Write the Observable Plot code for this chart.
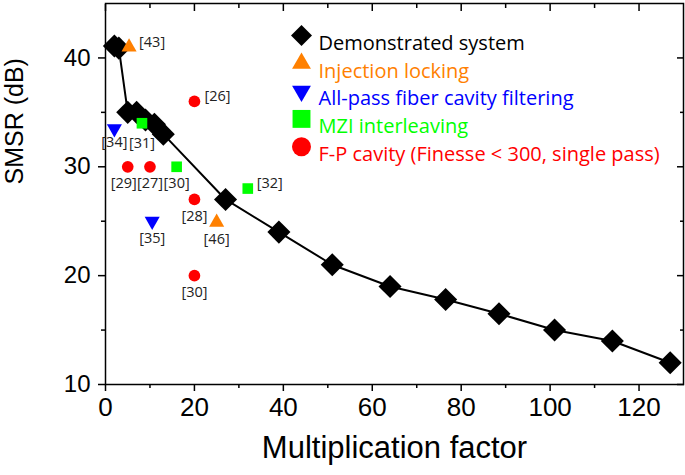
<!DOCTYPE html>
<html><head><meta charset="utf-8">
<script src="https://cdn.jsdelivr.net/npm/d3@7"></script>
<script src="https://cdn.jsdelivr.net/npm/@observablehq/plot@0.6"></script>
<style>body{margin:0;background:#fff}#chart{width:685px;height:475px}</style>
</head><body><div id="chart"></div>
<script>
// ---- data ----
const demoX = [2, 3, 5, 7, 9, 11, 13, 27, 39, 51, 64, 76.5, 88.5, 101, 114, 127];
const demoY = [41.1, 40.9, 35, 35, 34.3, 33.9, 33, 27, 24, 21, 19, 17.8, 16.5, 15, 14, 12];

const injX = [5.3, 25];
const injY = [41, 24.9];
const injRef = ["[43]", "[46]"];

const apX = [2, 10.5];
const apY = [33.5, 25];
const apRef = ["[34]", "[35]"];

const mziX = [8.2, 16, 32];
const mziY = [34, 30, 28];
const mziRef = ["[31]", "[30]", "[32]"];

const fpX = [20, 5, 10, 20, 20];
const fpY = [36, 30, 30, 27, 20];
const fpRef = ["[26]", "[29]", "[27]", "[28]", "[30]"];

const seriesNames = ["Demonstrated system", "Injection locking", "All-pass fiber cavity filtering", "MZI interleaving", "F-P cavity (Finesse < 300, single pass)"];

const xTicks = [0, 20, 40, 60, 80, 100, 120];
const xMinorTicks = [10, 30, 50, 70, 90, 110];
const yTicks = [10, 20, 30, 40];
const yMinorTicks = [15, 25, 35];

// ---- styles ----
const styles = [
  {color: "#000000", symbol: "square", rotate: 45, r: 9.2, lr: 8.4},
  {color: "#FF8000", symbol: "triangle", rotate: 0, r: 5.6, lr: 7.0},
  {color: "#0000FF", symbol: "triangle", rotate: 180, r: 5.6, lr: 7.0},
  {color: "#00FF00", symbol: "square", rotate: 0, r: 6.0, lr: 10.1},
  {color: "#FF0000", symbol: "circle", rotate: 0, r: 5.85, lr: 9.5}
];
// label placement offsets (pixels)
const labelPlace = {
  right: {dx: 10, dy: -5, textAnchor: "start"},
  below: {dx: 0, dy: 17, textAnchor: "middle"}
};

const demo = demoX.map((x, i) => ({x, y: demoY[i]}));
const mk = (xs, ys, refs) => xs.map((x, i) => ({x, y: ys[i], ref: refs[i]}));
const groups = [
  mk(injX, injY, injRef),
  mk(apX, apY, apRef),
  mk(mziX, mziY, mziRef),
  mk(fpX, fpY, fpRef)
];
const placement = {"[43]": ["right", 0, 0], "[26]": ["right", 0, 0], "[32]": ["right", -1, 0],
  "[34]": ["below", 0, -3], "[31]": ["below", 0, 3], "[29]": ["below", -4, 0]};

const labelFont = "'Open Sans', 'Noto Sans', sans-serif";

const refMarks = [];
groups.forEach((g, gi) => {
  const s = styles[gi + 1];
  refMarks.push(Plot.dot(g, {x: "x", y: "y", symbol: () => s.symbol, fill: s.color, stroke: "none", r: s.r, rotate: s.rotate}));
});
const labelMarks = [];
groups.flat().forEach(d => {
  const p = placement[d.ref] || ["below", 0, 0];
  const base = labelPlace[p[0]];
  labelMarks.push(Plot.text([d], {x: "x", y: "y", text: "ref", dx: base.dx + p[1], dy: base.dy + p[2],
    textAnchor: base.textAnchor, fontSize: 14.5, fill: "#222", fontFamily: labelFont}));
});

const legendMarks = [];
seriesNames.forEach((name, i) => {
  const s = styles[i];
  legendMarks.push(Plot.dot([name], {frameAnchor: "top-left", dx: 196, dy: 32 + i * 27.8,
    symbol: () => s.symbol, r: s.lr, rotate: s.rotate, fill: s.color, stroke: "none"}));
  legendMarks.push(Plot.text([name], {frameAnchor: "top-left", dx: 213, dy: 32 + i * 27.8, text: d => d,
    textAnchor: "start", fill: s.color, fontSize: 20, fontFamily: labelFont}));
});

const chart = Plot.plot({
  width: 685, height: 475,
  marginLeft: 105, marginRight: 2, marginTop: 3, marginBottom: 91,
  x: {domain: [0, 130]},
  y: {domain: [10, 45]},
  style: {fontFamily: "'Liberation Sans', Arial, sans-serif", background: "white", color: "black"},
  marks: [
    Plot.axisX({ticks: xTicks, tickSize: 7, tickPadding: 6, fontSize: 26, label: null, strokeWidth: 1.5}),
    Plot.axisX({ticks: xMinorTicks, tickSize: 4, tickFormat: () => "", label: null, strokeWidth: 1.5}),
    Plot.axisX({anchor: "top", ticks: xTicks, tickSize: -7, tickFormat: () => "", label: null, strokeWidth: 1.5}),
    Plot.axisX({anchor: "top", ticks: xMinorTicks, tickSize: -4, tickFormat: () => "", label: null, strokeWidth: 1.5}),
    Plot.axisY({ticks: yTicks, tickSize: 7, tickPadding: 8, fontSize: 24, label: null, strokeWidth: 1.5}),
    Plot.axisY({ticks: yMinorTicks, tickSize: 4, tickFormat: () => "", label: null, strokeWidth: 1.5}),
    Plot.axisY({anchor: "right", ticks: yTicks, tickSize: -7, tickFormat: () => "", label: null, strokeWidth: 1.5}),
    Plot.axisY({anchor: "right", ticks: yMinorTicks, tickSize: -4, tickFormat: () => "", label: null, strokeWidth: 1.5}),
    Plot.frame({stroke: "black", strokeWidth: 1.5}),
    Plot.text(["SMSR (dB)"], {frameAnchor: "left", dx: -91, dy: -9.5, rotate: -90, fontSize: 25, fill: "black"}),
    Plot.text(["Multiplication factor"], {frameAnchor: "bottom", dy: 73, fontSize: 31, fill: "black"}),
    Plot.line(demo, {x: "x", y: "y", stroke: "black", strokeWidth: 2}),
    Plot.dot(demo, {x: "x", y: "y", symbol: () => "square", rotate: 45, r: styles[0].r, fill: "black", stroke: "none"}),
    ...refMarks,
    ...labelMarks,
    ...legendMarks
  ]
});
document.getElementById("chart").appendChild(chart);
</script>
</body></html>
